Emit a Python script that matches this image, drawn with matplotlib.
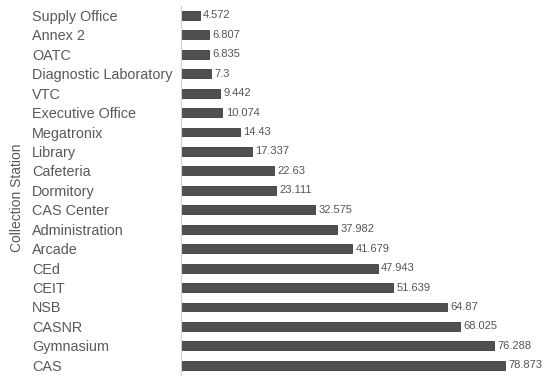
import matplotlib.pyplot as plt

stations = ["Supply Office", "Annex 2", "OATC", "Diagnostic Laboratory", "VTC",
            "Executive Office", "Megatronix", "Library", "Cafeteria", "Dormitory",
            "CAS Center", "Administration", "Arcade", "CEd", "CEIT", "NSB",
            "CASNR", "Gymnasium", "CAS"]
values = [4.572, 6.807, 6.835, 7.3, 9.442, 10.074, 14.43, 17.337, 22.63, 23.111,
          32.575, 37.982, 41.679, 47.943, 51.639, 64.87, 68.025, 76.288, 78.873]
value_labels = ["4.572", "6.807", "6.835", "7.3", "9.442", "10.074", "14.43", "17.337",
                "22.63", "23.111", "32.575", "37.982", "41.679", "47.943", "51.639",
                "64.87", "68.025", "76.288", "78.873"]

plt.rcParams["font.family"] = ["Liberation Sans", "DejaVu Sans"]

fig = plt.figure(figsize=(5.45, 3.76), dpi=100)
ax = fig.add_axes([0.332, 0.0, 0.668, 0.985])

ypos = list(range(len(stations)))
ax.barh(ypos, values, height=0.46, color="#505050", edgecolor="#3a3a3a", linewidth=0.6)

for y, v, lab in zip(ypos, values, value_labels):
    ax.text(v + 0.8, y, lab, va="center", ha="left", fontsize=8, color="#555555")

ax.set_yticks(ypos)
ax.set_yticklabels(stations, fontsize=10.4, color="#595959", ha="left")
ax.tick_params(axis="y", length=0, pad=107)
ax.set_xticks([])
ax.set_xlim(0, 88.6)
ax.set_ylim(18.55, -0.5)

for side in ["top", "right", "bottom"]:
    ax.spines[side].set_visible(False)
ax.spines["left"].set_color("#d0d0d0")
ax.spines["left"].set_linewidth(0.8)

fig.text(0.032, 0.475, "Collection Station", rotation=90, va="center", ha="center",
         fontsize=10, color="#595959")

fig.savefig("out.png", dpi=100)
